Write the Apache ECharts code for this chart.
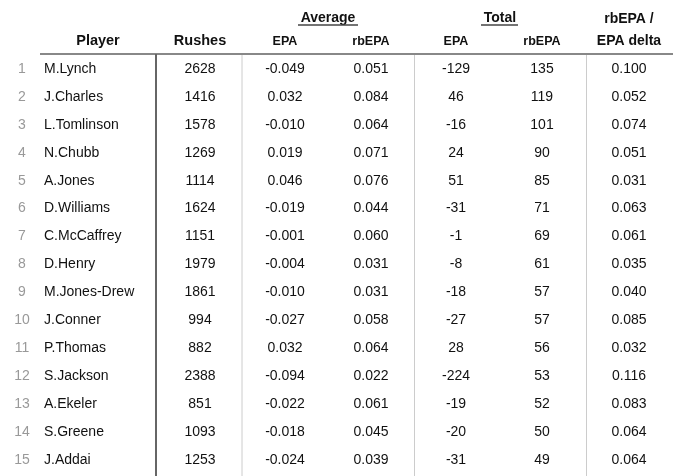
<!DOCTYPE html>
<html><head><meta charset="utf-8">
<script src="https://cdn.jsdelivr.net/npm/echarts@6/dist/echarts.min.js"></script>
<style>html,body{margin:0;padding:0;background:#fff}#c{width:680px;height:476px}</style>
</head><body><div id="c"></div>
<script>
const players = ["M.Lynch","J.Charles","L.Tomlinson","N.Chubb","A.Jones","D.Williams","C.McCaffrey","D.Henry","M.Jones-Drew","J.Conner","P.Thomas","S.Jackson","A.Ekeler","S.Greene","J.Addai"];
const rushes = [2628,1416,1578,1269,1114,1624,1151,1979,1861,994,882,2388,851,1093,1253];
const avgEPA = [-0.049,0.032,-0.010,0.019,0.046,-0.019,-0.001,-0.004,-0.010,-0.027,0.032,-0.094,-0.022,-0.018,-0.024];
const avgRbEPA = [0.051,0.084,0.064,0.071,0.076,0.044,0.060,0.031,0.031,0.058,0.064,0.022,0.061,0.045,0.039];
const totEPA = [-129,46,-16,24,51,-31,-1,-8,-18,-27,28,-224,-19,-20,-31];
const totRbEPA = [135,119,101,90,85,71,69,61,57,57,56,53,52,50,49];
const delta = [0.100,0.052,0.074,0.051,0.031,0.063,0.061,0.035,0.040,0.085,0.032,0.116,0.083,0.064,0.064];

const FONT = '"Liberation Sans", Arial, Helvetica, sans-serif';
const colX = {idx:22, name:44, rushes:200, aEPA:285, aRb:371, tEPA:456, tRb:542, delta:629};

const chart = echarts.init(document.getElementById('c'), null, {renderer:'canvas'});

const rowsData = players.map((p,i)=>[i]);

function renderItem(params, api){
  const i = api.value(0);
  const y = api.coord([0, players[i]])[1];
  const x = v => api.coord([v, players[i]])[0];
  const cell = (txt, cx, align, color) => ({
    type:'text',
    style:{text:String(txt), x:x(cx), y:y-1, align:align||'center', verticalAlign:'middle',
      font:'14px '+FONT, fill:color||'#111'}
  });
  return {type:'group', children:[
    cell(i+1, colX.idx, 'center', '#999'),
    cell(players[i], colX.name, 'left'),
    cell(rushes[i], colX.rushes),
    cell(avgEPA[i].toFixed(3), colX.aEPA),
    cell(avgRbEPA[i].toFixed(3), colX.aRb),
    cell(totEPA[i], colX.tEPA),
    cell(totRbEPA[i], colX.tRb),
    cell(delta[i].toFixed(3), colX.delta)
  ]};
}

const hdr = (t, x, y, size, extra) => Object.assign({
  type:'text', x:x, y:y,
  style:{text:t, font:'bold '+size+'px '+FONT, fill:'#111', align:'center', verticalAlign:'middle'}
}, extra||{});

const line = (x1,y1,x2,y2,color,w) => ({type:'line', shape:{x1,y1,x2,y2}, style:{stroke:color, lineWidth:w}, z:5});

chart.setOption({
  animation:false,
  grid:{left:0, right:0, top:56, bottom:1},
  xAxis:{type:'value', min:0, max:680, show:false},
  yAxis:{type:'category', data:players, inverse:true, show:false},
  series:[{type:'custom', renderItem, data:rowsData, encode:{x:0}}],
  graphic:[
    hdr('Average', 328, 18, 14),
    line(298, 25, 358, 25, '#444', 1.5),
    hdr('Total', 500, 18, 14),
    line(481, 25, 518, 25, '#444', 1.5),
    hdr('rbEPA /', 629, 19, 14),
    hdr('Player', 98, 41, 14.5),
    hdr('Rushes', 200, 41, 14.5),
    hdr('EPA', 285, 42, 12.5),
    hdr('rbEPA', 371, 42, 12.5),
    hdr('EPA', 456, 42, 12.5),
    hdr('rbEPA', 542, 42, 12.5),
    hdr('EPA delta', 629, 41, 14),
    line(40, 54, 673, 54, '#888', 2),
    line(156, 54, 156, 476, '#666', 2),
    line(242, 55, 242, 476, '#ccc', 1),
    line(414.5, 55, 414.5, 476, '#ccc', 1),
    line(586.5, 55, 586.5, 476, '#ccc', 1)
  ]
});
</script></body></html>
